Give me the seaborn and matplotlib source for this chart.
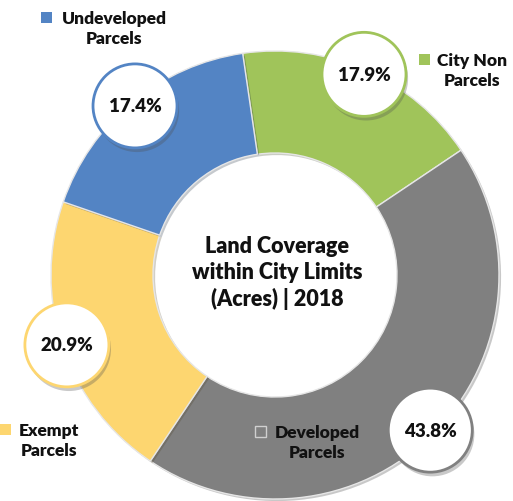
import matplotlib
matplotlib.use("Agg")
import matplotlib.pyplot as plt
import matplotlib.patheffects as pe
from matplotlib.patches import Circle, Rectangle
import numpy as np
import seaborn as sns

# data
categories = ["City Non Parcels", "Developed Parcels", "Exempt Parcels", "Undeveloped Parcels"]
shares = [17.9, 43.8, 20.9, 17.4]
colors = ["#A0C45A", "#808080", "#FDD670", "#5384C4"]
title = "Land Coverage\nwithin City Limits\n(Acres) | 2018"

sns.set_theme(style="white")
plt.rcParams["font.family"] = ["Lato", "DejaVu Sans"]

W, H = 513, 502
fig = plt.figure(figsize=(W / 100, H / 100), dpi=100)
ax = fig.add_axes([0, 0, 1, 1])

cx, cy = 275, H - 276
R = 224
width = 102

wedges, _ = ax.pie(shares, colors=colors, startangle=98.3, counterclock=False,
                   center=(cx, cy), radius=R, frame=True,
                   wedgeprops=dict(width=width, edgecolor="#e6e6e6", linewidth=1,
                                   path_effects=[pe.SimplePatchShadow(offset=(1.5, -1.5), alpha=0.25), pe.Normal()]))
ax.set_xlim(0, W)
ax.set_ylim(0, H)
ax.axis("off")

# percentage bubbles at the middle of each slice
for w, val, col in zip(wedges, shares, colors):
    mid = np.deg2rad((w.theta1 + w.theta2) / 2)
    bx = cx + 0.98 * R * np.cos(mid)
    by = cy + 0.98 * R * np.sin(mid)
    circ = Circle((bx, by), 42, facecolor="white", edgecolor=col, linewidth=2, zorder=5,
                  path_effects=[pe.SimplePatchShadow(offset=(1.5, -3), alpha=0.3), pe.Normal()])
    ax.add_patch(circ)
    ax.text(bx, by, f"{val:.1f}%", ha="center", va="center", fontsize=13.5,
            fontweight="heavy", color="#111111", zorder=6)

# center title
ax.text(cx + 2, cy + 3, title, ha="center", va="center", fontsize=15.5, fontweight="heavy",
        color="#111111", linespacing=1.3)

# legend labels placed around the ring
legend_pos = {
    "City Non Parcels": (472, H - 71, 419),
    "Developed Parcels": (317, H - 443, 255),
    "Exempt Parcels": (49, H - 441, 0),
    "Undeveloped Parcels": (114, H - 29, 41),
}
for cat, col in zip(categories, colors):
    tx, ty, sx = legend_pos[cat]
    words = cat.rsplit(" ", 1)
    ax.text(tx, ty, words[0] + "\n" + words[1], ha="center", va="center", fontsize=12.5,
            fontweight="heavy", color="#111111", linespacing=1.3)
    ec = "#d0d0d0" if cat == "Developed Parcels" else "none"
    ax.add_patch(Rectangle((sx, ty + 5), 11, 11, facecolor=col, edgecolor=ec, linewidth=1))

fig.savefig("out.png", dpi=100)
